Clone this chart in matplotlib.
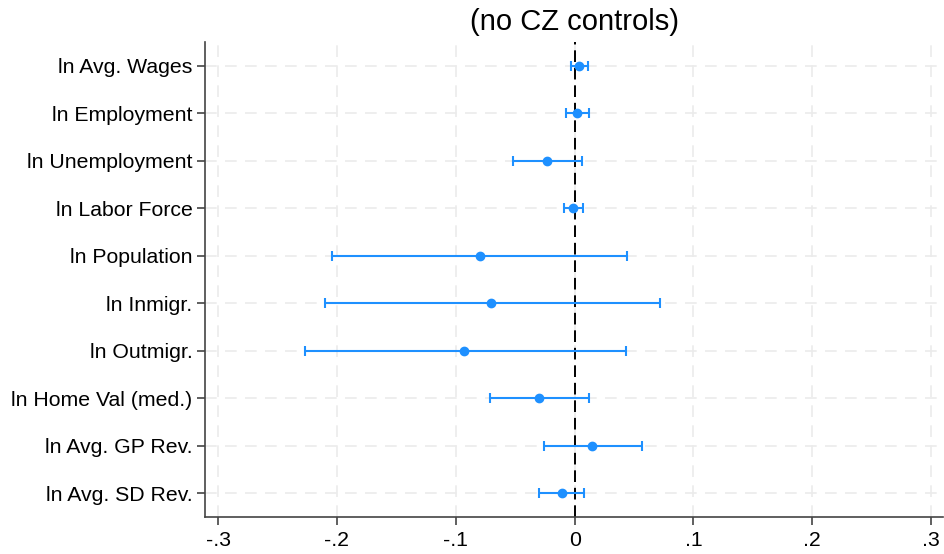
import matplotlib
matplotlib.use("Agg")
import matplotlib.pyplot as plt
import numpy as np

labels = ["ln Avg. Wages", "ln Employment", "ln Unemployment", "ln Labor Force",
          "ln Population", "ln Inmigr.", "ln Outmigr.", "ln Home Val (med.)",
          "ln Avg. GP Rev.", "ln Avg. SD Rev."]
coef = [0.004, 0.002, -0.023, -0.001, -0.080, -0.070, -0.093, -0.030, 0.015, -0.011]
ci_lo = [-0.003, -0.007, -0.052, -0.009, -0.204, -0.210, -0.227, -0.071, -0.026, -0.030]
ci_hi = [0.011, 0.012, 0.006, 0.007, 0.044, 0.072, 0.043, 0.012, 0.057, 0.008]
xticks = [-0.3, -0.2, -0.1, 0.0, 0.1, 0.2, 0.3]
xticklabels = ["-.3", "-.2", "-.1", "0", ".1", ".2", ".3"]
title = "(no CZ controls)"

plt.rcParams['font.family'] = ['Liberation Sans', 'DejaVu Sans']

fig = plt.figure(figsize=(9.45, 5.54), dpi=100)
ax = fig.add_axes([205/945, 1-517/554, (943-205)/945, (517-42)/554])

blue = "#1e90ff"
y = np.arange(1, len(labels) + 1)

for v in y:
    ax.axhline(v, color="#ebebeb", lw=1.2, ls=(0, (7, 5)), zorder=0)
for t in xticks:
    ax.axvline(t, color="#ebebeb", lw=1.2, ls=(0, (7, 5)), zorder=0)
ax.axvline(0, color="black", lw=1.4, ls=(0, (6, 3)), zorder=1)

coef_a = np.array(coef)
err = np.vstack([coef_a - np.array(ci_lo), np.array(ci_hi) - coef_a])
ax.errorbar(coef, y, xerr=err, fmt="o", color=blue, ecolor=blue, elinewidth=1.5,
            capsize=3.6, capthick=1.5, markersize=6, zorder=3)

ax.set_xlim(-0.311, 0.31)
ax.set_ylim(10.5, 0.5)
ax.set_yticks(y)
ax.set_yticklabels(labels, fontsize=15.3)
ax.set_xticks(xticks)
ax.set_xticklabels(xticklabels, fontsize=15.3)

for s in ["top", "right"]:
    ax.spines[s].set_visible(False)
for s in ["left", "bottom"]:
    ax.spines[s].set_color("#444444")
    ax.spines[s].set_linewidth(1.2)
ax.tick_params(axis="both", direction="out", length=6, width=1.2, color="#444444")
ax.tick_params(axis="y", pad=3)
ax.tick_params(axis="x", pad=4)

fig.text(575/945, 1-22/554, title, ha="center", va="center", fontsize=21)

fig.savefig("out.png", dpi=100)
